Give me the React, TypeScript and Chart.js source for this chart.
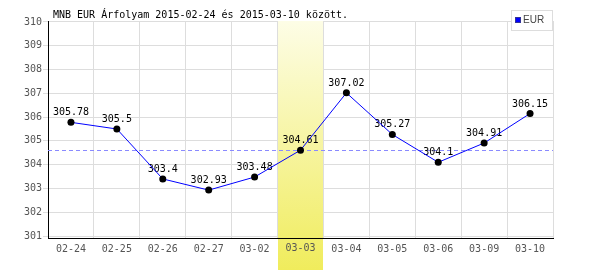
import React, { useEffect, useRef } from "react";
import { Chart, registerables } from "chart.js";

Chart.register(...registerables);

const categories = ["02-24", "02-25", "02-26", "02-27", "03-02", "03-03", "03-04", "03-05", "03-06", "03-09", "03-10"];
const eurValues = [305.78, 305.5, 303.4, 302.93, 303.48, 304.61, 307.02, 305.27, 304.1, 304.91, 306.15];
const yTicks = [301, 302, 303, 304, 305, 306, 307, 308, 309, 310];
const highlightIndex = 5;
const referenceValue = 304.61;
const titleText = "MNB EUR Árfolyam 2015-02-24 és 2015-03-10 között.";
const legendLabel = "EUR";

const MONO = "10px 'DejaVu Sans Mono', monospace";

const overlayPlugin = {
  id: "overlay",
  beforeDatasetsDraw(chart: any) {
    const { ctx, chartArea, scales } = chart;
    const x = scales.x;
    const y = scales.y;
    const colW = x.width / categories.length;
    const cx = x.getPixelForValue(highlightIndex);
    const left = Math.round(cx - colW / 2);
    const right = Math.round(cx + colW / 2);
    ctx.save();
    const g = ctx.createLinearGradient(0, chartArea.top, 0, chart.height);
    g.addColorStop(0, "#fdfde6");
    g.addColorStop(1, "#f0ec5c");
    ctx.fillStyle = g;
    ctx.fillRect(left, chartArea.top, right - left, chart.height - chartArea.top);
    // redraw axis line over band
    ctx.strokeStyle = "#000";
    ctx.lineWidth = 1;
    ctx.beginPath();
    ctx.moveTo(left - 1, chartArea.bottom + 0.5);
    ctx.lineTo(right + 1, chartArea.bottom + 0.5);
    ctx.stroke();
    // redraw label
    ctx.fillStyle = "#555";
    ctx.font = MONO;
    ctx.textAlign = "center";
    ctx.textBaseline = "top";
    ctx.fillText(categories[highlightIndex], cx, chartArea.bottom + 5);
    // dashed reference line
    const ry = Math.round(y.getPixelForValue(referenceValue)) + 0.5;
    ctx.strokeStyle = "#8a8aff";
    ctx.setLineDash([4, 3]);
    ctx.beginPath();
    ctx.moveTo(chartArea.left, ry);
    ctx.lineTo(chartArea.right, ry);
    ctx.stroke();
    ctx.setLineDash([]);
    // value labels
    ctx.fillStyle = "#000";
    ctx.textBaseline = "alphabetic";
    eurValues.forEach((v, i) => {
      const px = x.getPixelForValue(i);
      const py = y.getPixelForValue(v);
      ctx.fillText(String(v), px, py - 7);
    });
    ctx.restore();
  },
  afterDraw(chart: any) {
    const { ctx } = chart;
    ctx.save();
    // title
    ctx.fillStyle = "#000";
    ctx.font = MONO;
    ctx.textAlign = "left";
    ctx.textBaseline = "alphabetic";
    ctx.fillText(titleText, 53, 18);
    // legend
    ctx.fillStyle = "#fff";
    ctx.fillRect(511, 10, 42, 21);
    ctx.strokeStyle = "#ddd";
    ctx.lineWidth = 1;
    ctx.strokeRect(511.5, 10.5, 41, 20);
    ctx.fillStyle = "#0000ff";
    ctx.fillRect(515, 17, 6, 6);
    ctx.strokeStyle = "#333399";
    ctx.strokeRect(515.5, 17.5, 5, 5);
    ctx.fillStyle = "#444";
    ctx.font = "10px 'Liberation Sans', Arial, sans-serif";
    ctx.textBaseline = "middle";
    ctx.fillText(legendLabel, 523, 20.5);
    ctx.restore();
  },
};

export default function App() {
  const ref = useRef<HTMLCanvasElement | null>(null);
  useEffect(() => {
    if (!ref.current) return;
    const chart = new Chart(ref.current, {
      type: "line",
      data: {
        labels: categories,
        datasets: [
          {
            label: legendLabel,
            data: eurValues,
            borderColor: "#0000ff",
            borderWidth: 1,
            pointBackgroundColor: "#000",
            pointBorderColor: "#000",
            pointRadius: 3.5,
            pointBorderWidth: 0,
            tension: 0,
          },
        ],
      },
      options: {
        animation: false,
        responsive: false,
        maintainAspectRatio: false,
        layout: { padding: { top: 21, right: 47, left: 0, bottom: 0 } },
        plugins: {
          legend: { display: false },
          title: { display: false },
          tooltip: { enabled: false },
        },
        scales: {
          x: {
            type: "category",
            offset: true,
            grid: { color: "#dddddd", drawTicks: false, offset: true },
            border: { color: "#000", width: 1 },
            ticks: { font: { family: "'DejaVu Sans Mono', monospace", size: 10 }, color: "#555", padding: 5, maxRotation: 0, autoSkip: false },
            afterFit: (s: any) => { s.height = 32; },
          },
          y: {
            min: 300.916,
            max: 310.042,
            afterBuildTicks: (s: any) => { s.ticks = yTicks.map((v) => ({ value: v })); },
            grid: { color: "#dddddd", tickLength: 5 },
            border: { color: "#000", width: 1 },
            ticks: { font: { family: "'DejaVu Sans Mono', monospace", size: 10 }, color: "#555", padding: 1 },
            afterFit: (s: any) => { s.width = 48; },
          },
        },
      },
      plugins: [overlayPlugin],
    } as any);
    return () => chart.destroy();
  }, []);
  return (
    <div style={{ position: "absolute", left: 0, top: 0, width: 600, height: 270, background: "#fff" }}>
      <canvas ref={ref} width={600} height={270} />
    </div>
  );
}
